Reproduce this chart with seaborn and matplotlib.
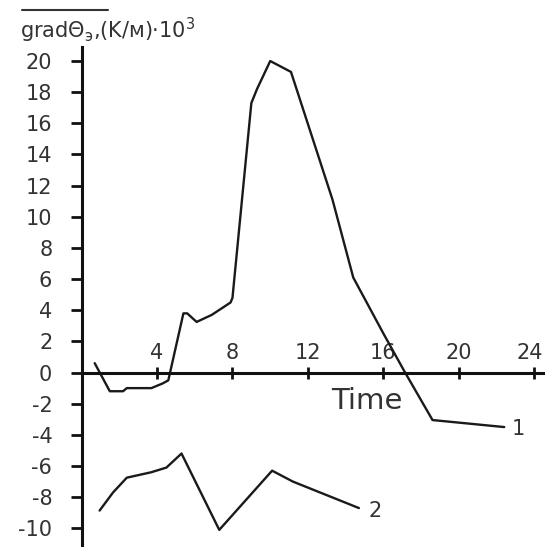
import matplotlib
matplotlib.use('Agg')
import matplotlib.pyplot as plt
from matplotlib.lines import Line2D
from matplotlib.transforms import ScaledTranslation
import seaborn as sns
import pandas as pd

# Curve 1
t1 = [0.7, 1.5, 2.2, 2.4, 3.7, 4.3, 4.6, 5.4, 5.6, 6.1, 6.9, 7.9, 8.0, 9.0, 9.3,
      10.0, 11.1, 13.3, 14.4, 16.0, 17.1, 18.6, 22.4]
g1 = [0.6, -1.2, -1.2, -1.0, -1.0, -0.7, -0.5, 3.8, 3.8, 3.25, 3.7, 4.5, 4.8, 17.3, 18.2,
      20.0, 19.3, 11.1, 6.1, 2.5, 0.1, -3.05, -3.5]
# Curve 2
t2 = [0.96, 1.67, 2.4, 3.7, 4.5, 5.3, 7.3, 10.1, 11.2, 14.7]
g2 = [-8.86, -7.7, -6.75, -6.4, -6.1, -5.2, -10.1, -6.3, -7.0, -8.7]

xticks = [4, 8, 12, 16, 20, 24]
yticks = list(range(-10, 21, 2))
curve_labels = ["1", "2"]

sns.set_style("white")
plt.rcParams['font.family'] = ['DejaVu Sans']
plt.rcParams['axes.unicode_minus'] = False

fig = plt.figure(figsize=(5.45, 5.47), dpi=100)
ax = fig.add_axes([81.5 / 545, 0.0, (545 - 81.5) / 545, (547 - 47) / 547])
ax.set_facecolor('white')

df1 = pd.DataFrame({"t": t1, "g": g1})
df2 = pd.DataFrame({"t": t2, "g": g2})
sns.lineplot(data=df1, x="t", y="g", sort=False, color="#1a1a1a", lw=1.7, ax=ax)
sns.lineplot(data=df2, x="t", y="g", sort=False, color="#1a1a1a", lw=1.7, ax=ax)

ax.set_xlim(0, 24.56)
ax.set_ylim(-11.2, 20.9)

ax.spines['right'].set_visible(False)
ax.spines['bottom'].set_visible(False)
ax.spines['left'].set_position(('data', 0))
ax.spines['top'].set_position(('data', 0))
for s in ['left', 'top']:
    ax.spines[s].set_linewidth(2.2)
    ax.spines[s].set_color('#111111')

ax.xaxis.set_ticks_position('top')
ax.yaxis.set_ticks_position('left')
ax.set_xticks(xticks)
ax.set_yticks(yticks)
ax.set_xticklabels([str(v) for v in xticks])
ax.set_yticklabels([str(v) for v in yticks])
ax.tick_params(axis='y', direction='out', length=8, width=2, color='#111111',
               labelsize=15, pad=13, labelcolor='#333333')
ax.tick_params(axis='x', direction='inout', length=8, width=2, color='#111111',
               labelsize=15, pad=3, labelcolor='#333333')
ax.set_xlabel('')
ax.set_ylabel('')

# nudge the last x tick label slightly left so it stays inside the figure
last = ax.get_xticklabels()[-1]
last.set_transform(last.get_transform() + ScaledTranslation(-5 / 100, 0, fig.dpi_scale_trans))

ax.text(15.1, -1.8, "Time", fontsize=21, color='#333333', ha='center', va='center')
ax.text(22.8, -3.6, curve_labels[0], fontsize=15, color='#333333', ha='left', va='center')
ax.text(15.2, -8.9, curve_labels[1], fontsize=15, color='#333333', ha='left', va='center')

fig.text(20 / 545, 1 - 38 / 547, r"grad$\Theta$$_{\mathregular{э}}$,(K/м)·10$^{\mathregular{3}}$",
         fontsize=15, color='#333333', ha='left', va='baseline')
fig.add_artist(Line2D([22 / 545, 108 / 545], [1 - 9.5 / 547, 1 - 9.5 / 547],
                      transform=fig.transFigure, color='#333333', lw=1.5))

fig.savefig("out.png", dpi=100, facecolor='white')
